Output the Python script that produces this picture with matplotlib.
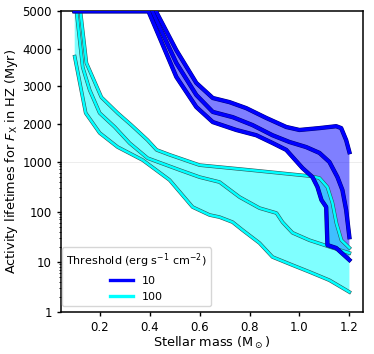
"""Activity lifetimes for F_X in the HZ vs stellar mass (log below 1000, linear above)."""
import numpy as np
import matplotlib
matplotlib.use('Agg')
import matplotlib.pyplot as plt
import matplotlib.patheffects as pe
from matplotlib.lines import Line2D

# ── data ──────────────────────────────────────────────────────────────────────
# threshold 100 erg s^-1 cm^-2 (cyan)
mass_c_hi = [0.10, 0.123, 0.147, 0.207, 0.272, 0.327, 0.392, 0.428, 0.48, 0.60,
             0.80, 1.04, 1.08, 1.112, 1.132, 1.148, 1.168, 1.20]
life_c_hi = [5000, 5000, 3620, 2710, 2290, 1970, 1570, 1310, 1180, 850,
             680, 515, 470, 310, 150, 59, 27, 19]

mass_c_mid = [0.10, 0.107, 0.132, 0.16, 0.20, 0.26, 0.32, 0.392, 0.52, 0.60,
              0.68, 0.76, 0.84, 0.908, 0.932, 0.972, 1.04, 1.12, 1.20]
life_c_mid = [5000, 5000, 3510, 2900, 2290, 1920, 1490, 1090, 680, 490,
              390, 196, 118, 94, 62, 38, 27, 20, 15]

mass_c_lo = [0.10, 0.144, 0.20, 0.272, 0.372, 0.48, 0.572, 0.64, 0.68, 0.732,
             0.772, 0.84, 0.892, 0.972, 1.04, 1.12, 1.20]
life_c_lo = [3790, 2290, 1760, 1385, 1040, 428, 124, 86, 78, 62,
             43, 23.7, 12.5, 8.6, 6.3, 4.3, 2.5]

# threshold 10 erg s^-1 cm^-2 (blue)
mass_b_hi = [0.10, 0.425, 0.507, 0.587, 0.653, 0.72, 0.787, 0.867, 0.947, 1.00,
             1.08, 1.147, 1.167, 1.187, 1.20]
life_b_hi = [5000, 5000, 3960, 3090, 2690, 2580, 2420, 2160, 1920, 1840,
             1890, 1940, 1890, 1570, 1250]

mass_b_mid = [0.10, 0.41, 0.507, 0.587, 0.653, 0.733, 0.812, 0.892, 0.96, 1.027,
              1.08, 1.12, 1.152, 1.172, 1.187, 1.20]
life_b_mid = [5000, 5000, 3620, 2770, 2320, 2180, 1970, 1700, 1520, 1385,
              1230, 980, 490, 270, 108, 31]

mass_b_lo = [0.10, 0.395, 0.507, 0.587, 0.653, 0.747, 0.827, 0.893, 0.947, 1.012,
             1.052, 1.072, 1.088, 1.107, 1.112, 1.147, 1.20]
life_b_lo = [5000, 5000, 3250, 2450, 2050, 1840, 1700, 1490, 1310, 742,
             491, 311, 171, 124, 21.6, 18.9, 10.9]

y_ticks = [1, 10, 100, 1000, 2000, 3000, 4000, 5000]
x_ticks = [0.2, 0.4, 0.6, 0.8, 1.0, 1.2]
legend_labels = ['10', '100']


# ── y scale: log10 up to 1000, linear 1000–5000 with the same height ─────────
def _fwd(y):
    y = np.asarray(y, dtype=float)
    lo = np.log10(np.clip(y, 1e-3, None))
    return np.where(y <= 1000, lo, 3 + (y - 1000) * 3 / 4000)


def _inv(u):
    u = np.asarray(u, dtype=float)
    return np.where(u <= 3, 10 ** np.clip(u, -10, 3), 1000 + (u - 3) * 4000 / 3)


fig = plt.figure(figsize=(3.74, 3.54), dpi=100)
ax = fig.add_axes([0.163, 0.1186, 0.808, 0.850])
ax.set_yscale('function', functions=(_fwd, _inv))

# fills
ax.fill(np.r_[mass_b_hi, mass_b_lo[::-1]], np.r_[life_b_hi, life_b_lo[::-1]],
        color='blue', alpha=0.5, lw=0, zorder=1)
ax.fill(np.r_[mass_c_hi, mass_c_lo[::-1]], np.r_[life_c_hi, life_c_lo[::-1]],
        color='cyan', alpha=0.5, lw=0, zorder=1.5)
ax.axhline(1000, color='0.9', lw=0.5, zorder=0.5)

cyan_fx = [pe.Stroke(linewidth=2.6, foreground='#2f5656'), pe.Normal()]
blue_fx = [pe.Stroke(linewidth=3.1, foreground='#00007a'), pe.Normal()]
for m, v in [(mass_c_hi, life_c_hi), (mass_c_mid, life_c_mid), (mass_c_lo, life_c_lo)]:
    ax.plot(m, v, color='cyan', lw=1.8, path_effects=cyan_fx, zorder=3)
for m, v in [(mass_b_hi, life_b_hi), (mass_b_mid, life_b_mid), (mass_b_lo, life_b_lo)]:
    ax.plot(m, v, color='blue', lw=2.4, path_effects=blue_fx, zorder=4)

ax.set_xlim(0.045, 1.255)
ax.set_ylim(1, 5000)
ax.set_xticks(x_ticks)
ax.set_xticklabels([f'{t:.1f}' for t in x_ticks])
ax.set_yticks(y_ticks)
ax.set_yticklabels([str(t) for t in y_ticks])
minor = [k * 10 ** e for e in range(3) for k in range(2, 10)]
ax.set_yticks(minor, minor=True)
ax.yaxis.set_minor_formatter(plt.NullFormatter())

ax.tick_params(which='major', labelsize=8.5, length=3, width=1, color='k')
ax.tick_params(which='minor', length=1.8, width=0.6)
for sp in ax.spines.values():
    sp.set_linewidth(1.1)

ax.set_xlabel(r'Stellar mass (M$_\odot$)', fontsize=9.3, labelpad=0.5)
ax.set_ylabel(r'Activity lifetimes for $F_{\rm X}$ in HZ (Myr)', fontsize=9.3, labelpad=1.5)

handles = [Line2D([], [], color='blue', lw=2.4), Line2D([], [], color='cyan', lw=2.4)]
ax.legend(handles, legend_labels, title=r'Threshold (erg s$^{-1}$ cm$^{-2}$)',
          loc='lower left', bbox_to_anchor=(0.003, 0.02), borderaxespad=0,
          fontsize=8, title_fontsize=8)

fig.savefig('out.png', dpi=100)
